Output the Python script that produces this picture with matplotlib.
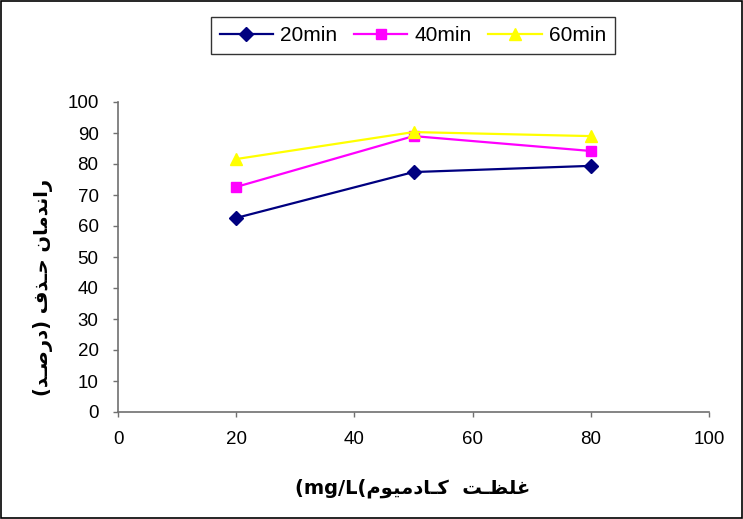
import matplotlib
matplotlib.use("Agg")
import matplotlib.pyplot as plt
from matplotlib.patches import Rectangle

# ---------------- data ----------------
concentration = [20, 50, 80]
series_labels = ["20min", "40min", "60min"]
removal_20min = [62.6, 77.4, 79.4]
removal_40min = [72.6, 89.0, 84.2]
removal_60min = [81.6, 90.3, 89.0]
y_ticks = [0, 10, 20, 30, 40, 50, 60, 70, 80, 90, 100]
x_ticks = [0, 20, 40, 60, 80, 100]
y_label_raw = "راندمان حـذف (درصـد)"
x_label_words = ["غلظـت", "کـادمیوم"]
x_label_unit = "(mg/L("

# ------------- simple Arabic/Persian shaping -------------
FORMS = {
    'ا': ('\uFE8D', '\uFE8E', None, None),
    'د': ('\uFEA9', '\uFEAA', None, None),
    'ذ': ('\uFEAB', '\uFEAC', None, None),
    'ر': ('\uFEAD', '\uFEAE', None, None),
    'و': ('\uFEED', '\uFEEE', None, None),
    'ن': ('\uFEE5', '\uFEE6', '\uFEE7', '\uFEE8'),
    'م': ('\uFEE1', '\uFEE2', '\uFEE3', '\uFEE4'),
    'ح': ('\uFEA1', '\uFEA2', '\uFEA3', '\uFEA4'),
    'ف': ('\uFED1', '\uFED2', '\uFED3', '\uFED4'),
    'ص': ('\uFEB9', '\uFEBA', '\uFEBB', '\uFEBC'),
    'غ': ('\uFECD', '\uFECE', '\uFECF', '\uFED0'),
    'ل': ('\uFEDD', '\uFEDE', '\uFEDF', '\uFEE0'),
    'ظ': ('\uFEC5', '\uFEC6', '\uFEC7', '\uFEC8'),
    'ت': ('\uFE95', '\uFE96', '\uFE97', '\uFE98'),
    'ک': ('\uFB8E', '\uFB8F', '\uFB90', '\uFB91'),
    'ی': ('\uFBFC', '\uFBFD', '\uFBFE', '\uFBFF'),
    'ـ': ('\u0640', '\u0640', '\u0640', '\u0640'),
}
MIRROR = {'(': ')', ')': '('}


def shape(text):
    out = []
    n = len(text)
    for i, ch in enumerate(text):
        if ch not in FORMS:
            out.append(MIRROR.get(ch, ch))
            continue
        prev = text[i - 1] if i > 0 else ''
        nxt = text[i + 1] if i < n - 1 else ''
        join_prev = prev in FORMS and FORMS[prev][2] is not None
        join_next = nxt in FORMS and FORMS[ch][2] is not None
        iso, fin, ini, med = FORMS[ch]
        if join_prev and join_next:
            out.append(med)
        elif join_prev:
            out.append(fin)
        elif join_next:
            out.append(ini)
        else:
            out.append(iso)
    return ''.join(reversed(out))


plt.rcParams['font.family'] = ['Liberation Sans', 'DejaVu Sans']

fig = plt.figure(figsize=(7.43, 5.19), dpi=100)
ax = fig.add_axes([118 / 743, 1 - 412 / 519, (709 - 118) / 743, (412 - 102) / 519])

ax.plot(concentration, removal_20min, color='#000080', marker='D', markersize=7,
        linewidth=1.6, label=series_labels[0])
ax.plot(concentration, removal_40min, color='#FF00FF', marker='s', markersize=7.5,
        linewidth=1.6, label=series_labels[1])
ax.plot(concentration, removal_60min, color='#FFFF00', marker='^', markersize=9,
        linewidth=1.6, label=series_labels[2])

ax.set_xlim(0, 100)
ax.set_ylim(0, 100)
ax.set_xticks(x_ticks)
ax.set_yticks(y_ticks)
ax.tick_params(axis='both', labelsize=13.5, direction='out', length=3.5, width=1.0,
               color='#707070', labelcolor='black')
ax.tick_params(axis='y', pad=10.5)
ax.tick_params(axis='x', pad=10.5)
ax.spines['top'].set_visible(False)
ax.spines['right'].set_visible(False)
for s in ('left', 'bottom'):
    ax.spines[s].set_color('#707070')
    ax.spines[s].set_linewidth(1.2)

fig.text(43 / 743, 1 - 287 / 519, shape(y_label_raw), rotation=90, ha='center',
         va='center', fontsize=14, fontweight='bold', family=['DejaVu Sans'])
x_label_visual = x_label_unit + shape(x_label_words[1]) + "  " + shape(x_label_words[0])
fig.text(413 / 743, 1 - 488 / 519, x_label_visual,
         ha='center', va='center', fontsize=14, fontweight='bold', family=['DejaVu Sans'])

leg = fig.legend(loc='center', bbox_to_anchor=(413 / 743, 1 - 35.5 / 519), ncol=3,
                 fontsize=15, frameon=True, fancybox=False, handlelength=2.55,
                 columnspacing=0.8, handletextpad=0.35, borderpad=0.45,
                 borderaxespad=0)
leg.get_frame().set_edgecolor('black')
leg.get_frame().set_linewidth(1.0)

fig.patches.append(Rectangle((0.001, 0.001), 0.997, 0.997, transform=fig.transFigure,
                             fill=False, edgecolor='black', linewidth=1.2))

fig.savefig('out.png', dpi=100)
